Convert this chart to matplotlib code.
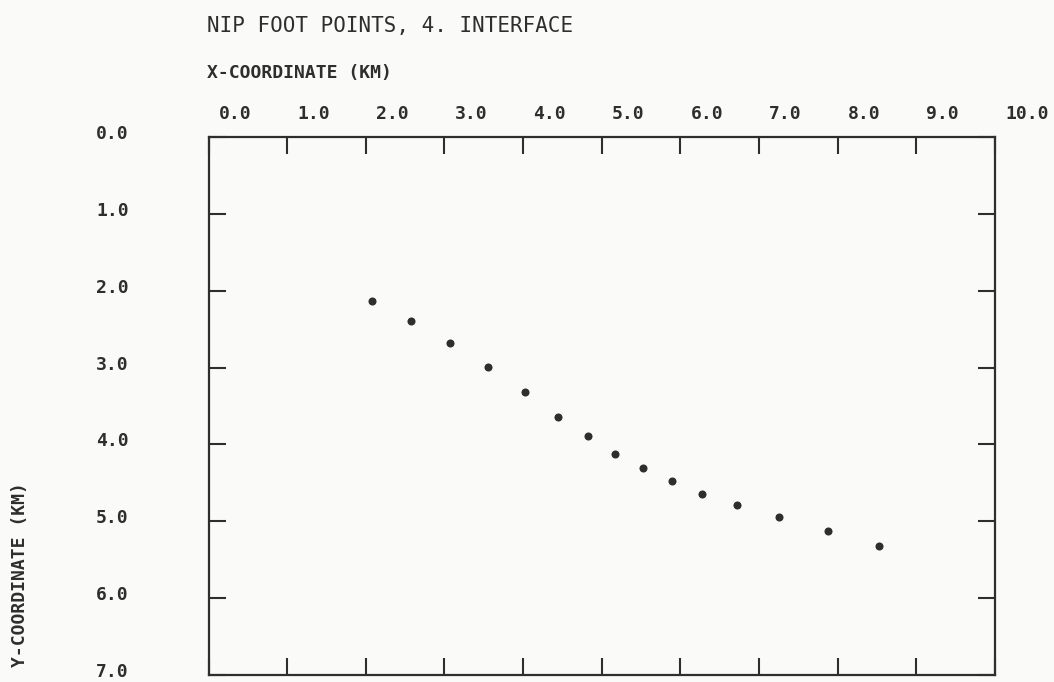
import matplotlib
matplotlib.use("Agg")
import matplotlib.pyplot as plt
from matplotlib.transforms import ScaledTranslation

# ---- data ----
x_km = [2.08, 2.57, 3.07, 3.55, 4.02, 4.44, 4.82, 5.17, 5.53, 5.89,
        6.27, 6.72, 7.26, 7.88, 8.53]
y_km = [2.13, 2.39, 2.68, 2.99, 3.32, 3.64, 3.89, 4.12, 4.31, 4.48,
        4.65, 4.79, 4.94, 5.12, 5.32]
x_ticks = [0, 1, 2, 3, 4, 5, 6, 7, 8, 9, 10]
x_tick_labels = ["0.0", "1.0", "2.0", "3.0", "4.0", "5.0", "6.0", "7.0",
                 "8.0", "9.0", "10.0"]
y_ticks = [0, 1, 2, 3, 4, 5, 6, 7]
y_tick_labels = ["0.0", "1.0", "2.0", "3.0", "4.0", "5.0", "6.0", "7.0"]
title = "NIP FOOT POINTS, 4. INTERFACE"
x_label = "X-COORDINATE (KM)"
y_label = "Y-COORDINATE (KM)"

INK = "#2e2e2e"
PAPER = "#fafaf8"
W, H = 1054, 682

fig = plt.figure(figsize=(W / 100, H / 100), dpi=100, facecolor=PAPER)
left, right, top, bottom = 208.5, 995, 137, 675
ax = fig.add_axes([left / W, 1 - bottom / H, (right - left) / W, (bottom - top) / H])
ax.set_facecolor(PAPER)

ax.plot(x_km, y_km, linestyle="none", marker="o", markersize=5.8,
        color=INK, markeredgewidth=0)

ax.set_xlim(0, 10)
ax.set_ylim(7, 0)

for s in ax.spines.values():
    s.set_color(INK)
    s.set_linewidth(1.6)

ax.set_xticks(x_ticks)
ax.set_xticklabels(x_tick_labels)
ax.set_yticks(y_ticks)
ax.set_yticklabels(y_tick_labels)

ax.tick_params(axis="x", which="major", top=True, bottom=True,
               labeltop=True, labelbottom=False, direction="in",
               length=12.5, width=1.5, color=INK, pad=10,
               labelsize=13, labelcolor=INK)
ax.tick_params(axis="y", which="major", left=True, right=True,
               labelleft=True, labelright=False, direction="in",
               length=12, width=1.5, color=INK, pad=57.5,
               labelsize=13, labelcolor=INK)

xoff = ScaledTranslation(10 / 100, 0, fig.dpi_scale_trans)
for lab in ax.get_xticklabels():
    lab.set_horizontalalignment("left")
    lab.set_fontfamily("DejaVu Sans Mono")
    lab.set_fontweight("bold")
    lab.set_transform(lab.get_transform() + xoff)

yoff = ScaledTranslation(0, 5 / 100, fig.dpi_scale_trans)
for lab in ax.get_yticklabels():
    lab.set_fontfamily("DejaVu Sans Mono")
    lab.set_fontweight("bold")
    lab.set_transform(lab.get_transform() + yoff)

fig.text(207 / W, 1 - 32 / H, title, ha="left", va="baseline",
         fontsize=15, family="DejaVu Sans Mono", color=INK)
fig.text(207 / W, 1 - 78 / H, x_label, ha="left", va="baseline",
         fontsize=13, family="DejaVu Sans Mono", fontweight="bold", color=INK)
fig.text(20 / W, 1 - 482 / H, y_label, ha="center", va="top", rotation=90,
         fontsize=13, family="DejaVu Sans Mono", fontweight="bold", color=INK)

fig.savefig("out.png", dpi=100, facecolor=PAPER)
